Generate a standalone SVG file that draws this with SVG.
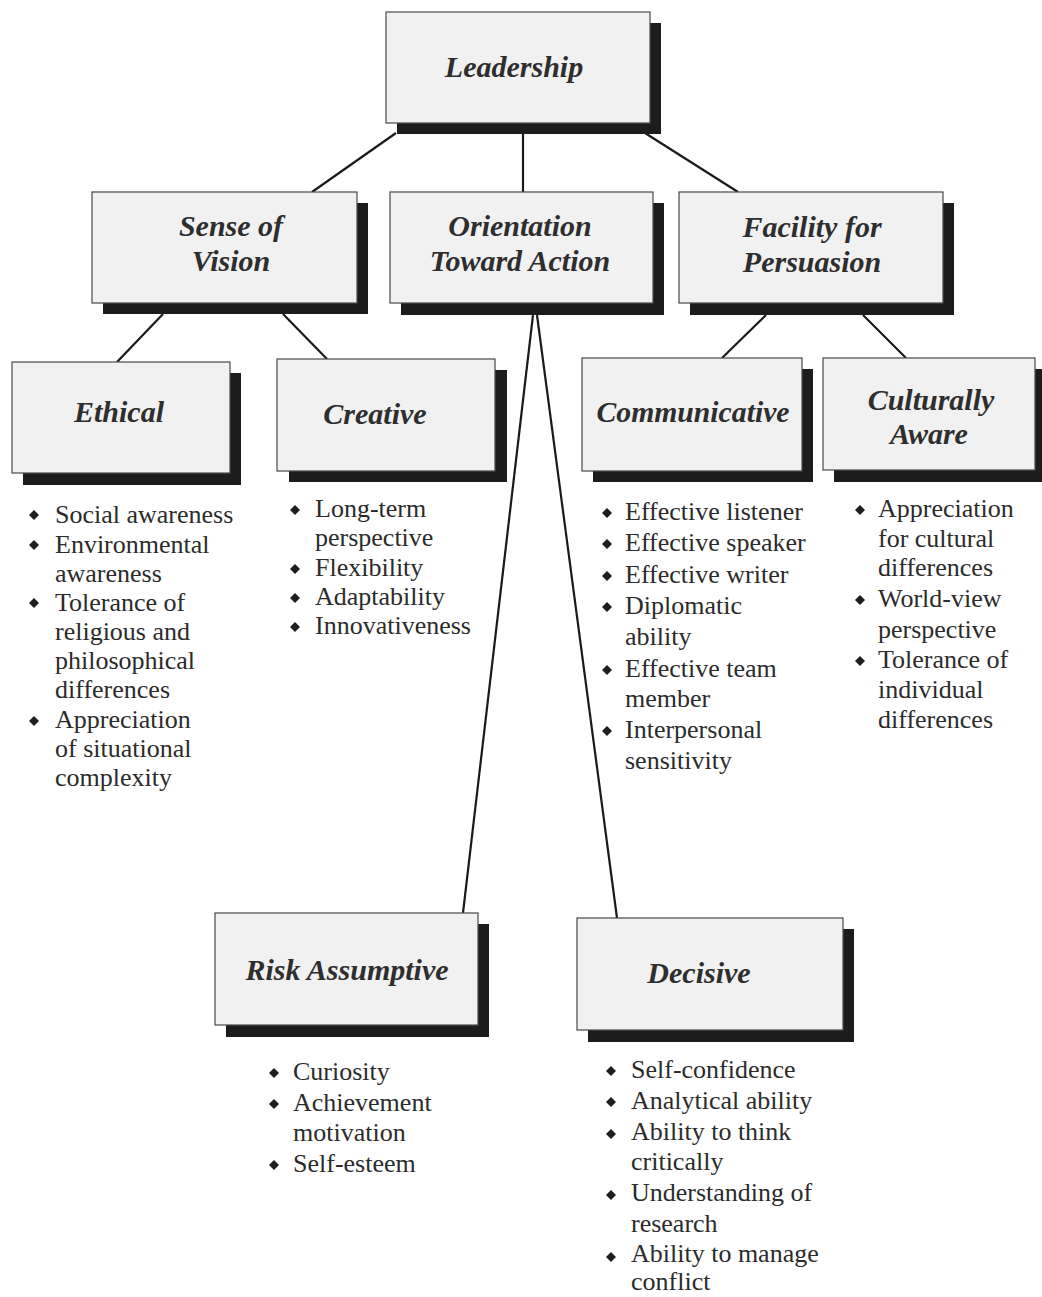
<svg xmlns="http://www.w3.org/2000/svg" xmlns:xlink="http://www.w3.org/1999/xlink" width="1042" height="1297" viewBox="0 0 1042 1297">
<style>
.bg{fill:#ffffff}
.shadow{fill:#1c1c1c}
.box{fill:#f1f1f1;stroke:#4a4a4a;stroke-width:1.2}
.title{font-family:"Liberation Serif","Times New Roman",serif;font-weight:bold;font-style:italic;font-size:30px;fill:#2e2e2e;text-anchor:middle}
.item{font-family:"Liberation Serif","Times New Roman",serif;font-size:26px;fill:#2b2b2b}
.conn{stroke:#1a1a1a;stroke-width:2.2;fill:none}
.bullet{fill:#1e1e1e}
</style>
<defs>
<path id="dia" d="M0,-5 L5,0 L0,5 L-5,0 Z"/>
</defs>
<rect class="bg" x="0" y="0" width="1042" height="1297"/>

<g id="connectors">
<line class="conn" x1="396" y1="133" x2="312" y2="192"/>
<line class="conn" x1="523" y1="133" x2="523" y2="192"/>
<line class="conn" x1="645" y1="133" x2="738" y2="192"/>
<line class="conn" x1="163" y1="314" x2="117" y2="362"/>
<line class="conn" x1="283" y1="314" x2="327" y2="359"/>
<line class="conn" x1="766" y1="315" x2="722" y2="358"/>
<line class="conn" x1="863" y1="315" x2="906" y2="358"/>
<line class="conn" x1="533" y1="315" x2="463" y2="913"/>
<line class="conn" x1="537" y1="315" x2="617" y2="918"/>
</g>

<g id="leadership">
<rect class="shadow" x="397" y="23" width="264" height="111"/>
<rect class="box" x="386" y="12" width="264" height="111"/>
<text class="title" x="514" y="77">Leadership</text>
</g>

<g id="sense-of-vision">
<rect class="shadow" x="103" y="203" width="265" height="111"/>
<rect class="box" x="92" y="192" width="265" height="111"/>
<text class="title" x="231" y="236">Sense of</text>
<text class="title" x="231" y="271">Vision</text>
</g>

<g id="orientation-toward-action">
<rect class="shadow" x="401" y="203" width="263" height="112"/>
<rect class="box" x="390" y="192" width="263" height="111"/>
<text class="title" x="520" y="236">Orientation</text>
<text class="title" x="520" y="271">Toward Action</text>
</g>

<g id="facility-for-persuasion">
<rect class="shadow" x="690" y="203" width="264" height="112"/>
<rect class="box" x="679" y="192" width="264" height="111"/>
<text class="title" x="812" y="237">Facility for</text>
<text class="title" x="812" y="272">Persuasion</text>
</g>

<g id="ethical">
<rect class="shadow" x="23" y="373" width="218" height="112"/>
<rect class="box" x="12" y="362" width="218" height="111"/>
<text class="title" x="119" y="422">Ethical</text>
<g class="bullet">
<use xlink:href="#dia" x="34" y="515"/>
<use xlink:href="#dia" x="34" y="545"/>
<use xlink:href="#dia" x="34" y="603"/>
<use xlink:href="#dia" x="34" y="721"/>
</g>
<text class="item" x="55" y="523">Social awareness</text>
<text class="item" x="55" y="553">Environmental</text>
<text class="item" x="55" y="582">awareness</text>
<text class="item" x="55" y="611">Tolerance of</text>
<text class="item" x="55" y="640">religious and</text>
<text class="item" x="55" y="669">philosophical</text>
<text class="item" x="55" y="698">differences</text>
<text class="item" x="55" y="728">Appreciation</text>
<text class="item" x="55" y="757">of situational</text>
<text class="item" x="55" y="786">complexity</text>
</g>

<g id="creative">
<rect class="shadow" x="289" y="370" width="218" height="112"/>
<rect class="box" x="277" y="359" width="218" height="112"/>
<text class="title" x="375" y="424">Creative</text>
<g class="bullet">
<use xlink:href="#dia" x="295" y="510"/>
<use xlink:href="#dia" x="295" y="569"/>
<use xlink:href="#dia" x="295" y="598"/>
<use xlink:href="#dia" x="295" y="627"/>
</g>
<text class="item" x="315" y="517">Long-term</text>
<text class="item" x="315" y="546">perspective</text>
<text class="item" x="315" y="576">Flexibility</text>
<text class="item" x="315" y="605">Adaptability</text>
<text class="item" x="315" y="634">Innovativeness</text>
</g>

<g id="communicative">
<rect class="shadow" x="593" y="369" width="220" height="113"/>
<rect class="box" x="582" y="358" width="220" height="113"/>
<text class="title" x="693" y="422" textLength="193" lengthAdjust="spacingAndGlyphs">Communicative</text>
<g class="bullet">
<use xlink:href="#dia" x="607" y="513"/>
<use xlink:href="#dia" x="607" y="544"/>
<use xlink:href="#dia" x="607" y="576"/>
<use xlink:href="#dia" x="607" y="607"/>
<use xlink:href="#dia" x="607" y="670"/>
<use xlink:href="#dia" x="607" y="731"/>
</g>
<text class="item" x="625" y="520">Effective listener</text>
<text class="item" x="625" y="551">Effective speaker</text>
<text class="item" x="625" y="583">Effective writer</text>
<text class="item" x="625" y="614">Diplomatic</text>
<text class="item" x="625" y="645">ability</text>
<text class="item" x="625" y="677">Effective team</text>
<text class="item" x="625" y="707">member</text>
<text class="item" x="625" y="738">Interpersonal</text>
<text class="item" x="625" y="769">sensitivity</text>
</g>

<g id="culturally-aware">
<rect class="shadow" x="834" y="369" width="212" height="113"/>
<rect class="box" x="823" y="358" width="212" height="112"/>
<text class="title" x="931" y="410">Culturally</text>
<text class="title" x="929" y="444">Aware</text>
<g class="bullet">
<use xlink:href="#dia" x="860" y="510"/>
<use xlink:href="#dia" x="860" y="600"/>
<use xlink:href="#dia" x="860" y="661"/>
</g>
<text class="item" x="878" y="517">Appreciation</text>
<text class="item" x="878" y="547">for cultural</text>
<text class="item" x="878" y="576">differences</text>
<text class="item" x="878" y="607">World-view</text>
<text class="item" x="878" y="638">perspective</text>
<text class="item" x="878" y="668">Tolerance of</text>
<text class="item" x="878" y="698">individual</text>
<text class="item" x="878" y="728">differences</text>
</g>

<g id="risk-assumptive">
<rect class="shadow" x="226" y="924" width="263" height="113"/>
<rect class="box" x="215" y="913" width="263" height="112"/>
<text class="title" x="347" y="980">Risk Assumptive</text>
<g class="bullet">
<use xlink:href="#dia" x="274" y="1073"/>
<use xlink:href="#dia" x="274" y="1104"/>
<use xlink:href="#dia" x="274" y="1165"/>
</g>
<text class="item" x="293" y="1080">Curiosity</text>
<text class="item" x="293" y="1111">Achievement</text>
<text class="item" x="293" y="1141">motivation</text>
<text class="item" x="293" y="1172">Self-esteem</text>
</g>

<g id="decisive">
<rect class="shadow" x="588" y="929" width="266" height="113"/>
<rect class="box" x="577" y="918" width="266" height="112"/>
<text class="title" x="699" y="983">Decisive</text>
<g class="bullet">
<use xlink:href="#dia" x="611" y="1071"/>
<use xlink:href="#dia" x="611" y="1102"/>
<use xlink:href="#dia" x="611" y="1134"/>
<use xlink:href="#dia" x="611" y="1195"/>
<use xlink:href="#dia" x="611" y="1257"/>
</g>
<text class="item" x="631" y="1078">Self-confidence</text>
<text class="item" x="631" y="1109">Analytical ability</text>
<text class="item" x="631" y="1140">Ability to think</text>
<text class="item" x="631" y="1170">critically</text>
<text class="item" x="631" y="1201">Understanding of</text>
<text class="item" x="631" y="1232">research</text>
<text class="item" x="631" y="1262">Ability to manage</text>
<text class="item" x="631" y="1290">conflict</text>
</g>
</svg>
